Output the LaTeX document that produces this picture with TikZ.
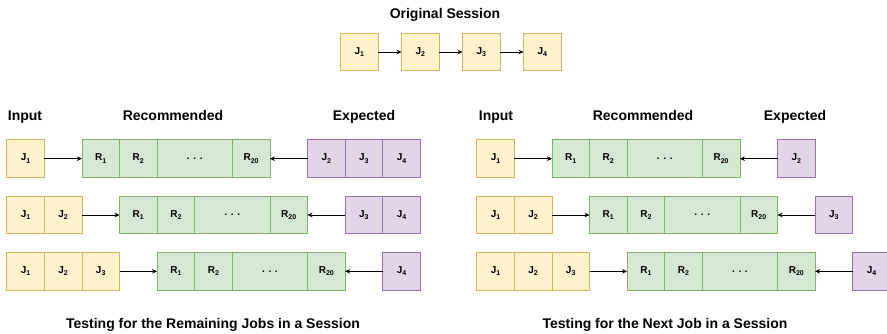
\documentclass[tikz,border=0pt]{standalone}
\usepackage{fontspec}
\setmainfont{Liberation Sans}
\usetikzlibrary{arrows.meta}
\definecolor{yfill}{HTML}{FFF2CC}
\definecolor{ydraw}{HTML}{D6B656}
\definecolor{gfill}{HTML}{D5E8D4}
\definecolor{gdraw}{HTML}{82B366}
\definecolor{pfill}{HTML}{E1D5E7}
\definecolor{pdraw}{HTML}{9673A6}
\newcommand\cellsub[1]{\raisebox{-0.45ex}{\fontsize{7}{8}\selectfont #1}}
\tikzset{
  cellbox/.style={draw, line width=0.8pt, minimum width=37.6pt, minimum height=37.6pt,
    inner sep=0pt, outer sep=0pt, font=\fontsize{10}{12}\selectfont\bfseries},
  ycell/.style={cellbox, fill=yfill, draw=ydraw},
  gcell/.style={cellbox, fill=gfill, draw=gdraw},
  pcell/.style={cellbox, fill=pfill, draw=pdraw},
  titletext/.style={font=\fontsize{14}{16}\selectfont\bfseries, inner sep=0pt, anchor=base},
  arr/.style={-{Stealth[length=5pt,width=4.5pt]}, line width=0.6pt, black},
}
\begin{document}
\begin{tikzpicture}[x=1pt,y=-1pt]
\useasboundingbox (0,0) rectangle (887,334);

% Original session
\node[titletext] (otitle) at (445,18.5) {Original Session};
\foreach \k in {1,...,4}{
  \node[ycell] (o\k) at ({359.3+61*(\k-1)},52) {J\cellsub{\k}};
}
\foreach \a/\b in {1/2,2/3,3/4}{
  \draw[arr] (o\a.east) -- (o\b.west);
}

% Headers
\node[titletext] (hinL) at (25,121) {Input};
\node[titletext] (hrecL) at (173,121) {Recommended};
\node[titletext] (hexpL) at (364,121) {Expected};
\node[titletext] (hinR) at (496,121) {Input};
\node[titletext] (hrecR) at (643,121) {Recommended};
\node[titletext] (hexpR) at (795,121) {Expected};

\def\u{37.6}
\foreach \pn/\xo/\mode in {L/6.7/4,R/476.7/0}{
  \foreach \r/\yc in {1/158.7,2/215,3/271.3}{
    \pgfmathtruncatemacro\rn{\r+1}
    \pgfmathtruncatemacro\kend{\mode==0 ? \rn : 4}
    % input
    \foreach \k in {1,...,\r}{
      \node[ycell] (\pn\r y\k) at ({\xo+(\k-0.5)*\u},\yc) {J\cellsub{\k}};
    }
    % recommended
    \node[gcell] (\pn\r g1) at ({\xo+(\r+1.5)*\u},\yc) {R\cellsub{1}};
    \node[gcell] (\pn\r g2) at ({\xo+(\r+2.5)*\u},\yc) {R\cellsub{2}};
    \node[gcell, minimum width=75.2pt] (\pn\r gd) at ({\xo+(\r+4)*\u},\yc) {. . .};
    \node[gcell] (\pn\r g20) at ({\xo+(\r+5.5)*\u},\yc) {R\cellsub{20}};
    % expected
    \foreach \k in {\rn,...,\kend}{
      \node[pcell] (\pn\r p\k) at ({\xo+(\k+6.5)*\u},\yc) {J\cellsub{\k}};
    }
    \draw[arr] (\pn\r y\r.east) -- (\pn\r g1.west);
    \draw[arr] (\pn\r p\rn.west) -- (\pn\r g20.east);
  }
}

% Bottom titles
\node[titletext] (bL) at (213,328) {Testing for the Remaining Jobs in a Session};
\node[titletext] (bR) at (665,328) {Testing for the Next Job in a Session};
\end{tikzpicture}
\end{document}
